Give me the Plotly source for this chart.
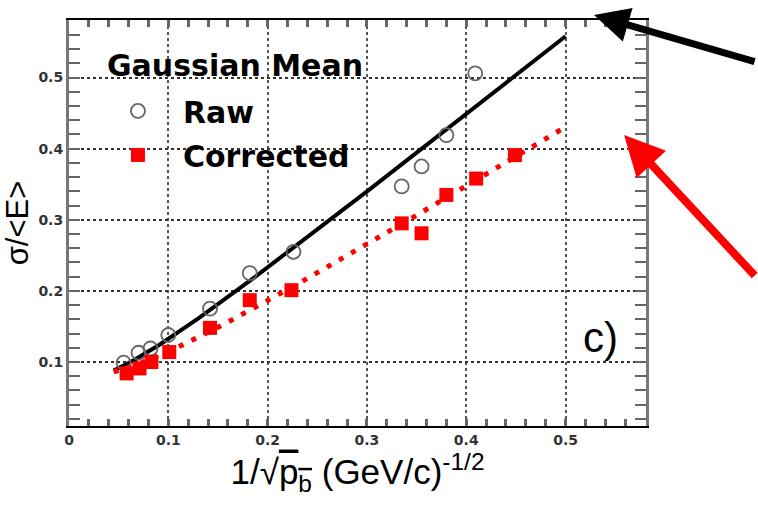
import numpy as np
import plotly.graph_objects as go

# ---- data ----
raw_x = [0.055, 0.070, 0.082, 0.100, 0.142, 0.182, 0.226, 0.335, 0.355, 0.380, 0.409]
raw_y = [0.099, 0.113, 0.119, 0.138, 0.175, 0.225, 0.255, 0.347, 0.375, 0.419, 0.506]

corr_x = [0.058, 0.071, 0.083, 0.101, 0.142, 0.182, 0.224, 0.335, 0.355, 0.380, 0.410, 0.449]
corr_y = [0.084, 0.091, 0.100, 0.114, 0.148, 0.187, 0.201, 0.295, 0.281, 0.335, 0.358, 0.391]

# fit curves: sigma/E = sqrt(a^2 + b^2 x^2)
raw_fit_a, raw_fit_b = 0.0727, 1.1067
corr_fit_a, corr_fit_b = 0.0773, 0.847
fit_x_min, fit_x_max = 0.045, 0.5

x_ticks = [0, 0.1, 0.2, 0.3, 0.4, 0.5]
y_ticks = [0.1, 0.2, 0.3, 0.4, 0.5]

fx = np.linspace(fit_x_min, fit_x_max, 200)
raw_fit = np.sqrt(raw_fit_a**2 + (raw_fit_b * fx) ** 2)
corr_fit = np.sqrt(corr_fit_a**2 + (corr_fit_b * fx) ** 2)

fig = go.Figure()
fig.add_trace(go.Scatter(x=fx, y=raw_fit, mode="lines", line=dict(color="black", width=4),
                         showlegend=False, hoverinfo="skip"))
fig.add_trace(go.Scatter(x=fx, y=corr_fit, mode="lines",
                         line=dict(color="#ff0000", width=5, dash="5px,9px"),
                         showlegend=False, hoverinfo="skip"))
fig.add_trace(go.Scatter(x=raw_x, y=raw_y, mode="markers", name="Raw", legendgroup="a",
                         marker=dict(symbol="circle-open", size=14, color="#666666",
                                     line=dict(width=1.8, color="#666666"))))
fig.add_trace(go.Scatter(x=corr_x, y=corr_y, mode="markers", name="Corrected", legendgroup="b",
                         marker=dict(symbol="square", size=14, color="#ff0000")))

tickfont = dict(family="DejaVu Sans", size=14, color="#333333", weight="bold")

fig.update_xaxes(range=[0, 0.581], tickvals=x_ticks, ticktext=[str(v) for v in x_ticks],
                 showline=True, linecolor="black", linewidth=2, mirror="ticks",
                 ticks="inside", ticklen=7, tickwidth=3, tickcolor="#666666",
                 minor=dict(dtick=0.02, tick0=0, ticks="inside", ticklen=7, tickwidth=3,
                            tickcolor="#666666", showgrid=False),
                 showgrid=True, gridcolor="#555555", gridwidth=2, griddash="dot",
                 zeroline=False, tickfont=tickfont,
                 title=dict(text="1/\u221A<span style='text-decoration:overline'>p<sub>b</sub></span> (GeV/c)<sup>-1/2</sup>",
                            font=dict(family="Liberation Sans", size=35, color="black"),
                            standoff=3))
fig.update_yaxes(range=[0.01, 0.581], tickvals=y_ticks, ticktext=[str(v) for v in y_ticks],
                 showline=True, linecolor="#777777", linewidth=3, mirror="ticks",
                 ticks="inside", ticklen=11, tickwidth=2, tickcolor="#666666",
                 minor=dict(dtick=0.02, tick0=0, ticks="inside", ticklen=11, tickwidth=2,
                            tickcolor="#666666", showgrid=False),
                 showgrid=True, gridcolor="#333333", gridwidth=2, griddash="dot",
                 zeroline=False, tickfont=tickfont,
                 title=dict(text="\u03C3/<E>", font=dict(family="Liberation Sans", size=31, color="black"),
                            standoff=4))

fig.update_layout(
    width=758, height=505,
    margin=dict(l=69, r=112, t=20, b=79),
    plot_bgcolor="white", paper_bgcolor="white",
    legend=dict(x=0.0415, y=0.840, xanchor="left", yanchor="top", bgcolor="rgba(0,0,0,0)",
                itemwidth=80, tracegroupgap=2,
                font=dict(family="DejaVu Sans", size=30, color="black", weight="bold")),
    annotations=[
        dict(text="Gaussian Mean", x=0.0624, y=0.889, xref="paper", yref="paper",
             xanchor="left", yanchor="middle", showarrow=False,
             font=dict(family="DejaVu Sans", size=30, color="black", weight="bold")),
        dict(text="c)", x=0.9208, y=0.2186, xref="paper", yref="paper", showarrow=False,
             xanchor="center", yanchor="middle",
             font=dict(family="Liberation Sans", size=42, color="black")),
        dict(text="", x=0.910, y=1.0123, xref="paper", yref="paper", showarrow=True,
             ax=162, ay=47, arrowhead=2, arrowsize=1.0, arrowwidth=7, arrowcolor="black"),
        dict(text="", x=0.962, y=0.7166, xref="paper", yref="paper", showarrow=True,
             ax=132, ay=142, arrowhead=2, arrowsize=1.0, arrowwidth=8, arrowcolor="#ff0000"),
    ],
)

fig.write_html("out.html")
